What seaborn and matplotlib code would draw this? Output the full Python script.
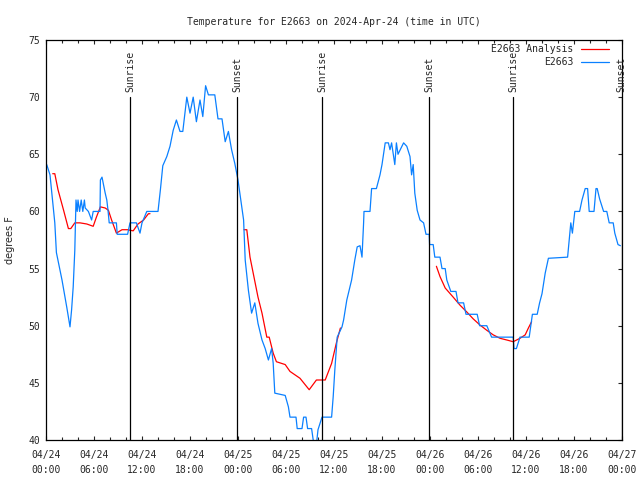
import pandas as pd
import seaborn as sns
import matplotlib.pyplot as plt
import matplotlib.dates as mdates
from matplotlib.lines import Line2D

# station observations: hours after 2024-04-24 00:00 UTC, temperature in F
obs_hours = [0.09, 0.5, 1.1, 1.3, 2.0, 2.6, 3.0, 3.2, 3.4, 3.6, 3.75, 3.9, 4.0, 4.2, 4.4,
             4.6, 4.8, 4.9, 5.3, 5.7, 5.9, 6.1, 6.75, 6.8, 7.0, 7.4, 7.6, 7.75, 7.9, 8.8,
             8.9, 10.2, 10.5, 11.3, 11.75, 12.0, 12.6, 14.0, 14.3, 14.6, 15.1, 15.5, 15.9,
             16.3, 16.75, 17.1, 17.6, 18.0, 18.4, 18.8, 19.25, 19.6, 19.95, 20.3, 21.1,
             21.5, 22.0, 22.4, 22.8, 23.2, 23.6, 24.0, 24.7, 24.9, 25.3, 25.7, 26.1, 26.5,
             27.0, 27.4, 27.8, 28.2, 28.4, 28.6, 29.9, 30.3, 30.5, 31.25, 31.4, 32.0, 32.2,
             32.5, 32.7, 33.2, 33.4, 33.8, 34.0, 34.5, 35.7, 35.9, 36.1, 36.4, 37.0, 37.2,
             37.6, 38.2, 38.6, 38.9, 39.25, 39.5, 39.7, 39.75, 40.5, 40.7, 41.3, 41.75,
             42.0, 42.4, 42.8, 43.0, 43.2, 43.6, 43.8, 44.0, 44.7, 45.1, 45.5, 45.7, 45.9,
             46.1, 46.4, 46.75, 47.2, 47.5, 47.9, 47.95, 48.4, 48.6, 49.25, 49.5, 49.9,
             50.1, 50.6, 51.25, 51.5, 52.2, 52.5, 53.9, 54.2, 55.1, 55.7, 58.4, 58.5, 58.8,
             59.25, 60.4, 60.8, 61.4, 61.7, 62.0, 62.4, 62.8, 65.2, 65.4, 65.6, 65.8, 66.1,
             66.7, 67.0, 67.4, 67.7, 67.9, 68.5, 68.75, 68.9, 69.2, 69.7, 70.1, 70.4, 70.9,
             71.1, 71.5, 71.8]
obs_temps = [64.1, 63.2, 59.0, 56.4, 54.0, 51.6, 49.9, 51.4, 53.4, 56.6, 61.0, 60.0, 61.0,
             60.0, 61.0, 60.0, 61.0, 60.3, 60.0, 59.25, 60.0, 60.0, 60.0, 62.75, 63.0, 61.6,
             61.0, 60.1, 59.0, 59.0, 58.0, 58.0, 59.0, 59.0, 58.1, 59.0, 60.0, 60.0, 61.9,
             64.0, 64.8, 65.7, 67.1, 68.0, 67.0, 67.0, 70.0, 68.6, 70.0, 67.85, 69.75, 68.3,
             71.0, 70.2, 70.2, 68.1, 68.1, 66.1, 67.0, 65.4, 64.2, 62.75, 59.25, 55.75, 53.1,
             51.1, 52.0, 50.2, 48.75, 48.0, 47.0, 48.0, 46.7, 44.1, 43.9, 42.9, 42.0, 42.0,
             41.0, 41.0, 42.0, 42.0, 41.0, 41.0, 40.0, 39.6, 40.9, 42.0, 42.0, 43.8, 46.1,
             49.0, 49.9, 50.5, 52.25, 54.0, 55.75, 56.9, 57.0, 56.0, 59.0, 60.0, 60.0, 62.0,
             62.0, 63.2, 64.1, 66.0, 66.0, 65.4, 66.0, 64.1, 66.0, 65.0, 66.0, 65.7, 64.8,
             63.2, 64.1, 61.6, 60.1, 59.25, 59.0, 58.0, 58.0, 57.1, 57.1, 56.0, 56.0, 55.0,
             55.0, 54.0, 53.0, 53.0, 52.0, 52.0, 51.0, 51.0, 50.0, 50.0, 49.0, 49.0, 48.0,
             48.0, 49.0, 49.0, 51.0, 51.0, 52.0, 52.8, 54.6, 55.9, 56.0, 57.5, 59.0, 58.1,
             60.0, 60.0, 61.0, 62.0, 62.0, 60.0, 60.0, 62.0, 62.0, 61.1, 60.0, 60.0, 59.0,
             59.0, 58.1, 57.1, 57.0]

# analysis series, three separate segments
ana_hours = [[0.84, 1.1, 1.5, 2.2, 2.8, 3.1, 3.6, 4.25, 5.1, 5.9, 6.3, 6.8, 7.4, 7.8, 8.2,
              8.8, 9.5, 10.2, 10.9, 11.5, 12.2, 12.8, 13.0],
             [24.75, 25.1, 25.5, 25.9, 26.5, 27.0, 27.6, 27.9, 28.4, 28.8, 29.9, 30.5, 31.75,
              32.9, 33.8, 34.9, 35.7, 36.3, 36.8],
             [48.8, 49.25, 49.9, 50.9, 51.75, 52.6, 53.4, 54.25, 55.1, 55.9, 56.75, 57.6,
              58.4, 59.25, 59.9, 60.3, 60.7]]
ana_temps = [[63.3, 63.3, 61.9, 60.1, 58.5, 58.5, 59.0, 59.0, 58.9, 58.7, 59.5, 60.4, 60.3,
              60.1, 59.25, 58.1, 58.4, 58.4, 58.3, 58.9, 59.25, 59.8, 59.8],
             [58.4, 58.4, 56.0, 54.6, 52.5, 51.1, 49.0, 49.0, 47.6, 46.85, 46.6, 46.0, 45.4,
              44.4, 45.25, 45.25, 46.7, 48.5, 49.8],
             [55.2, 54.3, 53.3, 52.5, 51.8, 51.2, 50.6, 50.06, 49.6, 49.2, 48.9, 48.75, 48.6,
              48.9, 49.2, 49.8, 50.35]]

sun_hours = [10.5, 23.9, 34.5, 47.9, 58.4, 71.95]
sun_labels = ['Sunrise', 'Sunset', 'Sunrise', 'Sunset', 'Sunrise', 'Sunset']

base = pd.Timestamp('2024-04-24 00:00')
obs = pd.DataFrame({'time': base + pd.to_timedelta(obs_hours, unit='h'), 'temp': obs_temps})
rows = []
for i, (hs, ts) in enumerate(zip(ana_hours, ana_temps)):
    for h, t in zip(hs, ts):
        rows.append({'time': base + pd.Timedelta(hours=h), 'temp': t, 'seg': i})
ana = pd.DataFrame(rows)
sun_times = base + pd.to_timedelta(sun_hours, unit='h')

sns.set_style('ticks')
plt.rcParams['font.family'] = ['DejaVu Sans Mono']
plt.rcParams['font.size'] = 7

fig = plt.figure(figsize=(6.4, 4.8), dpi=100)
ax = fig.add_axes([46 / 640, 40 / 480, 576 / 640, 400 / 480])

blue = '#0a80ff'
sns.lineplot(data=ana, x='time', y='temp', units='seg', estimator=None,
             color='red', lw=0.9, ax=ax, legend=False)
sns.lineplot(data=obs, x='time', y='temp', color=blue, lw=0.9, ax=ax,
             estimator=None, legend=False)

for t, lab in zip(sun_times, sun_labels):
    ax.plot([t, t], [40, 70], color='black', lw=0.9)
    ax.text(t, 70.45, lab, rotation=90, ha='center', va='bottom', fontsize=7)

ax.set_xlim(base, base + pd.Timedelta(hours=72))
ax.set_ylim(40, 75)
ax.set_yticks([40, 45, 50, 55, 60, 65, 70, 75])
ax.xaxis.set_major_locator(mdates.HourLocator(byhour=[0, 6, 12, 18]))
ax.xaxis.set_minor_locator(mdates.HourLocator(byhour=range(0, 24, 2)))
ax.xaxis.set_major_formatter(mdates.DateFormatter('%m/%d\n%H:%M'))
ax.tick_params(axis='x', which='both', direction='in', top=True, bottom=True, pad=7)
ax.tick_params(axis='x', which='major', length=3.2, width=0.8)
ax.tick_params(axis='x', which='minor', length=2.2, width=0.8)
ax.tick_params(axis='y', direction='in', left=False, right=True, length=3.2, width=0.8, pad=4)
for lbl in ax.get_xticklabels():
    lbl.set_linespacing(1.65)

for s in ax.spines.values():
    s.set_linewidth(0.9)
    s.set_color('black')

ax.set_xlabel('')
ax.set_ylabel('degrees F', family='DejaVu Sans', fontsize=7)
ax.yaxis.set_label_coords(-0.054, 0.5)
ax.set_title('Temperature for E2663 on 2024-Apr-24 (time in UTC)', fontsize=7, pad=11)

handles = [Line2D([], [], color='red', lw=0.9), Line2D([], [], color=blue, lw=0.9)]
ax.legend(handles, ['E2663 Analysis', 'E2663'], loc='upper right',
          bbox_to_anchor=(0.978, 0.99), borderaxespad=0, borderpad=0, frameon=False,
          markerfirst=False, handlelength=2.9, handletextpad=0.8, labelspacing=0.35)

fig.savefig('out.png', dpi=100)
